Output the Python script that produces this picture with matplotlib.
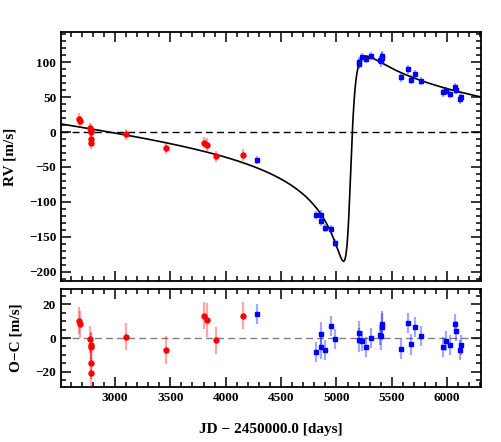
import numpy as np
import matplotlib
matplotlib.use('Agg')
import matplotlib.pyplot as plt
from matplotlib.ticker import MultipleLocator

plt.rcParams['font.family'] = ['Liberation Serif', 'DejaVu Serif']
plt.rcParams['font.weight'] = 'bold'
plt.rcParams['axes.labelweight'] = 'bold'

# dataset 1 (red)
jd1 = [2679, 2681, 2772, 2780, 2784, 2786, 2786, 3096, 3463, 3803, 3827, 3909, 4158]
rv1 = [18.5, 15.5, 5.5, 3.0, 0.5, -10.5, -15.5, -3.0, -23.0, -15.5, -19.0, -35.0, -33.0]
oc1 = [10.1, 8.1, -0.6, -4.2, -5.2, -15.0, -20.8, 0.8, -7.1, 13.3, 10.7, -1.2, 13.1]
err1 = [8, 8, 8, 8, 8, 9, 9, 8, 8, 8, 10, 8, 8]

# dataset 2 (blue)
jd2 = [4282, 4811, 4859, 4865, 4898, 4949, 4989, 5205, 5208, 5235, 5265, 5310,
       5392, 5405, 5407, 5410, 5582, 5645, 5671, 5706, 5766, 5962, 5985, 6027,
       6073, 6076, 6112, 6124]
rv2 = [-40.0, -118.6, -118.6, -127.0, -137.6, -139.0, -159.0, 100.5, 97.0, 106.7, 104.0, 108.6,
       103.0, 101.0, 106.0, 108.0, 78.0, 89.5, 75.0, 83.0, 73.0, 56.7, 59.0, 55.0,
       64.0, 60.0, 46.7, 49.6]
oc2 = [14.3, -8.1, 2.2, -5.5, -7.1, 6.9, -0.6, 3.2, -1.1, -1.6, -5.5, 0.0,
       1.6, 1.2, 6.7, 8.1, -6.7, 9.1, -3.8, 6.7, 1.4, -5.3, -1.8, -4.2,
       8.5, 4.0, -7.1, -4.3]
err2 = [6, 6, 7, 7, 6, 6, 6, 7, 7, 6, 6, 6,
        6, 8, 8, 8, 6, 6, 6, 6, 6, 6, 6, 6,
        6, 6, 6, 6]

# orbit of the fitted model
period = 5150.0
ecc = 0.8485
t_peri = 5120.75
K = 146.67
omega = -109.45  # deg
gamma = 3.3

xlim = (2513, 6304)


def kepler_rv(t):
    M = np.mod(2*np.pi*(t - t_peri)/period, 2*np.pi)
    E = np.pi*np.ones_like(M)
    for _ in range(40):
        E = E - (E - ecc*np.sin(E) - M)/(1 - ecc*np.cos(E))
    nu = 2*np.arctan2(np.sqrt(1+ecc)*np.sin(E/2), np.sqrt(1-ecc)*np.cos(E/2))
    w = np.radians(omega)
    return gamma + K*(np.cos(nu + w) + ecc*np.cos(w))


def style(ax):
    ax.tick_params(which='both', direction='in', top=True, right=True,
                   labelsize=9.5, width=1.1)
    ax.tick_params(which='major', length=7)
    ax.tick_params(which='minor', length=3.5)
    ax.xaxis.set_major_locator(MultipleLocator(500))
    ax.xaxis.set_minor_locator(MultipleLocator(100))
    for s in ax.spines.values():
        s.set_linewidth(1.3)


fig = plt.figure(figsize=(5.01, 4.42), dpi=100)
ax1 = fig.add_axes([0.1218, 0.3643, 0.838, 0.5633])
ax2 = fig.add_axes([0.1218, 0.1244, 0.838, 0.2217])

t = np.linspace(xlim[0], xlim[1], 4000)
ax1.plot(t, kepler_rv(t), color='black', lw=1.2, zorder=3)
ax1.axhline(0, color='black', lw=1.0, ls=(0, (5, 3)), zorder=1)
ax1.errorbar(jd1, rv1, yerr=err1, fmt='o', color='red', ms=3.6,
             ecolor=(1, 0, 0, 0.35), elinewidth=1.6, capsize=0, zorder=4)
ax1.errorbar(jd2, rv2, yerr=err2, fmt='s', color='blue', ms=3.2,
             ecolor=(0, 0, 1, 0.35), elinewidth=1.6, capsize=0, zorder=4)
ax1.set_xlim(xlim)
ax1.set_ylim(-213, 143)
style(ax1)
ax1.yaxis.set_major_locator(MultipleLocator(50))
ax1.yaxis.set_minor_locator(MultipleLocator(10))
ax1.set_xticklabels([])
ax1.set_ylabel('RV [m/s]', fontsize=11, labelpad=9)

ax2.axhline(0, color='gray', lw=1.0, ls=(0, (5, 3)), zorder=1)
ax2.errorbar(jd1, oc1, yerr=err1, fmt='o', color='red', ms=3.6,
             ecolor=(1, 0, 0, 0.35), elinewidth=1.6, capsize=0, zorder=4)
ax2.errorbar(jd2, oc2, yerr=err2, fmt='s', color='blue', ms=3.2,
             ecolor=(0, 0, 1, 0.35), elinewidth=1.6, capsize=0, zorder=4)
ax2.set_xlim(xlim)
ax2.set_ylim(-29, 29)
style(ax2)
ax2.yaxis.set_major_locator(MultipleLocator(20))
ax2.yaxis.set_minor_locator(MultipleLocator(5))
ax2.set_ylabel('O\u2212C [m/s]', fontsize=11, labelpad=9)
ax2.set_xlabel('JD \u2212 2450000.0 [days]', fontsize=11, labelpad=14)

fig.savefig('out.png', dpi=100)
